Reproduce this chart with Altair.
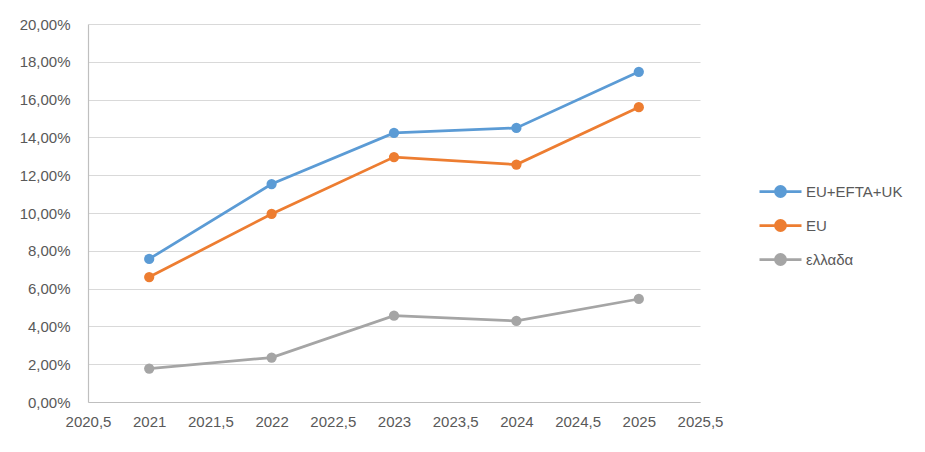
import altair as alt
import pandas as pd

years = [2021, 2022, 2023, 2024, 2025]
series_names = ["EU+EFTA+UK", "EU", "ελλαδα"]
eu_efta_uk = [0.0757, 0.1153, 0.1424, 0.1450, 0.1747]
eu = [0.0661, 0.0995, 0.1296, 0.1256, 0.1560]
greece = [0.0177, 0.0235, 0.0457, 0.0429, 0.0545]
colors = ["#5B9BD5", "#ED7D31", "#A5A5A5"]
x_ticks = [2020.5, 2021, 2021.5, 2022, 2022.5, 2023, 2023.5, 2024, 2024.5, 2025, 2025.5]
y_ticks = [0, 0.02, 0.04, 0.06, 0.08, 0.10, 0.12, 0.14, 0.16, 0.18, 0.20]

rows = []
for name, vals in zip(series_names, [eu_efta_uk, eu, greece]):
    for y, v in zip(years, vals):
        rows.append({"year": y, "value": v, "series": name})
df = pd.DataFrame(rows)

FONT = "Liberation Sans"
legend_symbol = "M-1,0H1M0.24,0A0.24,0.24,0,1,1,-0.24,0A0.24,0.24,0,1,1,0.24,0Z"

chart = alt.Chart(df).mark_line(
    strokeWidth=2.75,
    point=alt.OverlayMarkDef(filled=True, size=105, opacity=1),
).encode(
    x=alt.X("year:Q",
            scale=alt.Scale(domain=[2020.5, 2025.5], nice=False, zero=False),
            axis=alt.Axis(values=x_ticks, title=None, grid=False, ticks=False,
                          labelExpr="replace(format(datum.value, ''), '.', ',')",
                          labelOverlap=False, labelFlush=False,
                          labelPadding=12, domainColor="#bfbfbf", domainWidth=1.2)),
    y=alt.Y("value:Q",
            scale=alt.Scale(domain=[0, 0.2], nice=False),
            axis=alt.Axis(values=y_ticks, title=None, ticks=False,
                          labelExpr="replace(format(datum.value, '.2%'), '.', ',')",
                          labelOverlap=False, labelFlush=False,
                          labelPadding=18, gridColor="#d9d9d9", gridWidth=1.2,
                          domainColor="#bfbfbf", domainWidth=1.2)),
    color=alt.Color("series:N",
                    scale=alt.Scale(domain=series_names, range=colors),
                    legend=alt.Legend(title=None, orient="none", legendX=670, legendY=145,
                                      symbolType=legend_symbol, symbolSize=1764,
                                      symbolStrokeWidth=2.75, labelOffset=3,
                                      rowPadding=-8, padding=0)),
).properties(
    width=612,
    height=378,
    padding={"left": 80, "top": 16, "right": 217, "bottom": 42},
    autosize=alt.AutoSizeParams(type="none"),
    background="white",
).configure_view(
    stroke=None,
).configure_axis(
    labelFont=FONT, labelFontSize=15, labelColor="#595959",
).configure_legend(
    labelFont=FONT, labelFontSize=15, labelColor="#595959",
)

chart.save("out.html", embed_options={"renderer": "svg", "actions": False})
